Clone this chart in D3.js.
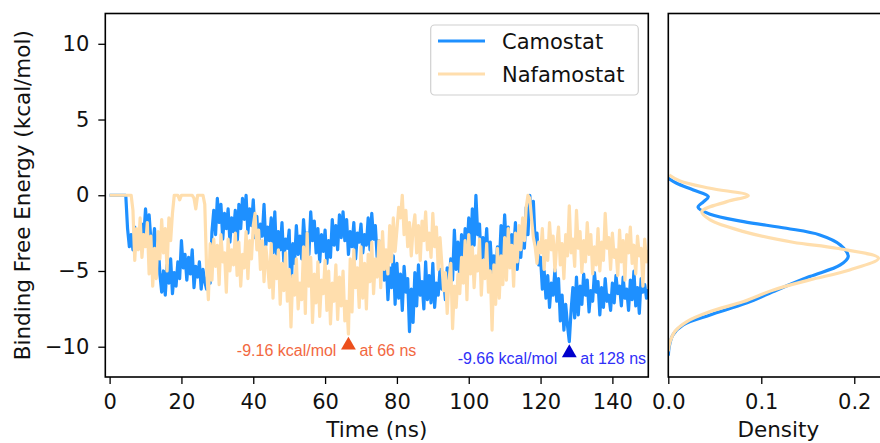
<!DOCTYPE html>
<html><head><meta charset="utf-8">
<script src="https://cdn.jsdelivr.net/npm/d3@7"></script>
<style>body{margin:0;background:#fff}svg{display:block}</style>
</head><body><svg id="c" width="880" height="443"></svg>
<script>
// ---------------- data ----------------
const timeStep = 0.5; // ns between samples
const camostat = [
0,0,0,0,0,0,0,0,0,0,
-2.2,-3.4,-2.6,-3.6,-2.1,-3.1,-2.4,-3.5,-1.9,-2.8,
-0.9,-2.5,-1.3,-3.0,-3.5,-2.2,-3.8,-3.0,-5.2,-6.4,
-5.0,-6.6,-4.6,-5.8,-4.2,-6.5,-5.1,-6.0,-4.4,-5.5,
-3.0,-4.8,-3.9,-5.6,-4.1,-5.2,-3.6,-6.1,-4.7,-5.4,
-4.4,-6.2,-4.9,-5.7,-6.2,-4.6,-5.8,-2.4,-1.0,-2.6,
-0.2,-1.8,-0.6,-2.9,-1.2,-2.2,-0.9,-3.1,-1.5,-2.4,
-1.0,-3.4,-0.6,-2.2,-0.2,-1.6,0.0,-2.5,-0.9,-2.0,
-0.3,-2.8,-1.4,-3.6,-1.9,-2.7,-0.6,-3.3,-2.1,-3.0,
-1.5,-3.8,-1.1,-4.2,-2.4,-3.6,-1.8,-4.4,-2.9,-3.5,
-2.3,-6.6,-3.2,-4.5,-2.0,-3.9,-2.7,-4.2,-1.6,-3.4,
-2.5,-3.9,-1.1,-3.0,-1.7,-3.8,-2.2,-4.4,-2.6,-3.7,
-2.3,-4.5,-3.0,-4.1,-1.6,-3.3,-2.0,-3.6,-1.3,-2.8,
-1.1,-3.0,-1.6,-3.9,-2.4,-3.4,-1.8,-4.2,-2.5,-3.1,
-1.9,-3.8,-2.6,-3.3,-1.5,-3.6,-1.2,-2.9,-2.0,-4.1,
-3.0,-4.5,-3.6,-5.6,-4.2,-6.9,-4.8,-6.1,-4.0,-7.2,
-4.5,-6.8,-5.2,-7.6,-4.7,-6.4,-5.5,-9.0,-6.2,-8.4,
-5.1,-7.3,-4.6,-6.6,-5.7,-7.5,-4.4,-6.9,-5.3,-7.1,
-4.5,-7.4,-5.8,-6.6,-4.9,-6.2,-5.5,-6.9,-4.8,-5.9,
-4.2,-5.6,-2.3,-4.9,-3.1,-5.5,-2.6,-4.4,-2.2,-3.8,
-1.5,-4.2,-0.9,-3.3,0.0,-2.6,-1.9,-4.6,-2.8,-4.1,
-2.2,-4.9,-3.1,-5.2,-4.0,-5.6,-3.4,-4.7,-2.0,-3.9,
-1.3,-3.6,-2.1,-4.4,-2.6,-3.8,-1.8,-4.9,-3.2,-4.1,
-2.4,-3.5,-0.8,-2.6,0.0,-1.6,-0.4,-3.2,-2.5,-4.6,
-4.1,-6.2,-5.0,-6.8,-5.3,-7.4,-5.8,-6.6,-4.9,-7.0,
-5.5,-8.3,-6.6,-8.9,-7.2,-8.6,-9.66,-7.6,-6.1,-8.1,
-5.4,-7.9,-6.0,-7.2,-5.2,-6.6,-5.6,-7.7,-6.3,-7.0,
-5.1,-6.4,-5.7,-7.9,-6.1,-7.4,-5.5,-7.0,-6.6,-7.6,
-5.8,-7.1,-5.3,-6.5,-6.0,-7.3,-5.4,-6.8,-6.2,-7.6,
-5.6,-6.9,-5.0,-7.3,-6.1,-7.8,-5.5,-6.4,-5.9,-6.8,
-6.2];
const nafamostat = [
0,0,0,0,0,0,0,0,0,0,
0,0,0,-1.0,-4.3,-2.2,-3.6,-1.5,-4.1,-2.6,
-3.4,-1.8,-5.2,-2.7,-6.0,-3.5,-5.5,-2.4,-4.2,-1.6,
-3.8,-2.2,-5.0,-1.5,-3.0,-1.2,0,0,0,-0.3,
0,0,0,0,0,0,0,-0.2,-0.9,0,
0,0,0,-0.6,-4.8,-6.9,-3.2,-5.6,-2.9,-4.7,
-3.3,-5.9,-2.6,-4.4,-3.8,-6.4,-2.9,-5.0,-3.6,-4.6,
-2.5,-5.3,-3.1,-6.0,-3.9,-4.8,-2.4,-5.5,-3.0,-4.2,
-2.0,-1.2,-3.6,-2.3,-4.9,-3.0,-5.7,-3.4,-4.6,-6.1,
-3.2,-6.8,-4.0,-5.5,-3.6,-7.2,-4.5,-6.3,-3.8,-7.0,
-4.9,-8.7,-5.3,-6.6,-4.2,-7.5,-5.8,-6.9,-3.4,-7.8,
-2.5,-6.0,-4.1,-8.4,-5.2,-7.1,-4.4,-8.0,-5.6,-6.5,
-4.3,-7.6,-5.0,-8.5,-5.8,-7.0,-4.6,-8.2,-5.4,-7.3,
-5.0,-8.3,-7.0,-9.16,-4.2,-7.7,-3.6,-6.1,-4.8,-7.4,
-3.4,-6.8,-4.5,-7.5,-3.9,-5.7,-3.1,-6.5,-4.2,-5.4,
-3.0,-6.1,-2.4,-4.9,-3.6,-5.2,-2.0,-4.4,-1.5,-3.7,
-2.3,-0.8,-1.5,0.0,-2.6,-1.0,-3.4,-1.8,-4.0,-2.2,
-1.3,-3.8,-2.0,-4.3,-1.7,-3.0,-1.1,-3.6,-2.5,-4.1,
-1.2,-3.4,-2.1,-4.9,-2.8,-4.5,-6.3,-5.1,-7.8,-5.6,
-4.5,-8.8,-6.0,-7.4,-5.2,-6.5,-4.1,-5.8,-3.0,-6.9,
-2.6,-5.2,-3.4,-6.1,-4.0,-5.0,-2.9,-6.6,-4.3,-5.5,
-3.2,-6.4,-5.0,-8.9,-4.6,-7.2,-3.5,-6.8,-4.0,-5.9,
-2.8,-5.6,-2.2,-4.8,-3.3,-6.0,-2.5,-4.4,-2.0,-3.6,
-1.5,-3.0,-0.8,0.0,-0.2,-1.6,-2.8,-3.4,-4.5,-3.1,
-3.8,-2.2,-4.9,-3.0,-4.3,-1.8,-3.6,-2.7,-5.0,-3.3,
-2.1,-4.6,-3.2,-5.5,-2.6,-4.0,-0.7,-3.8,-2.9,-4.7,
-1.0,-3.5,-2.4,-5.1,-3.0,-4.4,-1.8,-3.9,-2.6,-5.2,
-3.4,-4.6,-2.2,-5.0,-3.1,-4.3,-1.2,-3.5,-2.8,-4.9,
-2.5,-4.1,-3.6,-5.3,-2.3,-4.4,-3.0,-5.6,-2.6,-3.8,
-2.1,-4.5,-3.3,-5.2,-2.7,-4.0,-3.5,-6.0,-2.9,-4.4,
-3.6];
const seriesNames = ["Camostat", "Nafamostat"];
const seriesColors = ["#1E90FF", "#FFDEAD"];

// density (KDE) curves: energy (kcal/mol) and density
const camDensEnergy  = [1.12, 0.79, 0.35, -0.09, -0.42, -0.79, -1.25, -1.74, -2.18, -2.62, -3.28, -4.05, -4.60, -5.37, -6.25, -7.12, -7.90, -8.56, -9.22, -10.0, -10.6];
const camDensity     = [0.0, 0.009, 0.027, 0.043, 0.038, 0.032, 0.045, 0.081, 0.127, 0.163, 0.185, 0.1935, 0.185, 0.152, 0.117, 0.084, 0.045, 0.016, 0.005, 0.001, 0.0];
const nafDensEnergy  = [1.34, 0.94, 0.46, -0.02, -0.42, -1.08, -1.63, -2.40, -3.10, -3.50, -4.16, -4.93, -5.59, -6.25, -7.02, -7.68, -8.34, -9.0, -9.66, -10.3];
const nafDensity     = [0.001, 0.0126, 0.045, 0.086, 0.063, 0.036, 0.045, 0.081, 0.134, 0.181, 0.226, 0.195, 0.152, 0.113, 0.081, 0.045, 0.020, 0.007, 0.002, 0.0];

// minima annotations
const minTime   = [66.5, 128];
const minEnergy = [-9.16, -9.66];
const minLabel  = ["-9.16 kcal/mol", "-9.66 kcal/mol"];
const minAt     = ["at 66 ns", "at 128 ns"];
const minTextColors   = ["#f2683f", "#3030f8"];
const minMarkerColors = ["#ec4f1c", "#0000cc"];

const timeTicks = [0, 20, 40, 60, 80, 100, 120, 140];
const energyTicks = [-10, -5, 0, 5, 10];
const densityTicks = [0, 0.1, 0.2];

// ---------------- drawing ----------------
const FONT = "'DejaVu Sans', sans-serif";
const svg = d3.select("#c");
const L = {x0: 105.3, x1: 648.3, y0: 13.5, y1: 377};
const R = {x0: 668.3, x1: 888.3};

const x = d3.scaleLinear().domain([-1.2, 150]).range([L.x0, L.x1]);
const y = d3.scaleLinear().domain([-12, 12]).range([L.y1, L.y0]);
const xd = d3.scaleLinear().domain([0, 0.2366]).range([R.x0, R.x1]);

const defs = svg.append("defs");
defs.append("clipPath").attr("id", "clipL").append("rect")
  .attr("x", L.x0).attr("y", L.y0).attr("width", L.x1 - L.x0).attr("height", L.y1 - L.y0);
defs.append("clipPath").attr("id", "clipR").append("rect")
  .attr("x", R.x0).attr("y", L.y0).attr("width", R.x1 - R.x0).attr("height", L.y1 - L.y0);

// time series
const seriesData = [camostat, nafamostat];
const line = d3.line().x((d, i) => x(i * timeStep)).y(d => y(d));
const gL = svg.append("g").attr("clip-path", "url(#clipL)");
seriesData.forEach((s, k) => {
  gL.append("path").datum(s).attr("d", line)
    .attr("fill", "none").attr("stroke", seriesColors[k])
    .attr("stroke-width", 3.2).attr("stroke-linejoin", "round");
});

// density
const gR = svg.append("g").attr("clip-path", "url(#clipR)");
const dens = [
  {e: camDensEnergy, d: camDensity},
  {e: nafDensEnergy, d: nafDensity}
];
const dline = d3.line().curve(d3.curveCatmullRom.alpha(0.5));
dens.forEach((s, k) => {
  const pts = s.e.map((e, i) => [xd(s.d[i]), y(e)]);
  gR.append("path").attr("d", dline(pts))
    .attr("fill", "none").attr("stroke", seriesColors[k]).attr("stroke-width", 3.2);
});

// axes
function styleAxis(g) {
  g.select(".domain").remove();
  g.selectAll(".tick line").attr("stroke", "#000").attr("stroke-width", 1.3);
  g.selectAll(".tick text").attr("font-family", FONT).attr("font-size", 21).attr("fill", "#111");
}
svg.append("g").attr("transform", `translate(0,${L.y1})`)
  .call(d3.axisBottom(x).tickValues(timeTicks).tickSize(7).tickPadding(10).tickFormat(d3.format("d")))
  .call(styleAxis);
svg.append("g").attr("transform", `translate(${L.x0},0)`)
  .call(d3.axisLeft(y).tickValues(energyTicks).tickSize(7).tickPadding(9).tickFormat(d3.format("d")))
  .call(styleAxis);
svg.append("g").attr("transform", `translate(0,${L.y1})`)
  .call(d3.axisBottom(xd).tickValues(densityTicks).tickSize(7).tickPadding(10).tickFormat(d3.format(".1f")))
  .call(styleAxis);

// frames
svg.append("rect").attr("x", L.x0).attr("y", L.y0).attr("width", L.x1 - L.x0).attr("height", L.y1 - L.y0)
  .attr("fill", "none").attr("stroke", "#000").attr("stroke-width", 1.6);
svg.append("rect").attr("x", R.x0).attr("y", L.y0).attr("width", R.x1 - R.x0).attr("height", L.y1 - L.y0)
  .attr("fill", "none").attr("stroke", "#000").attr("stroke-width", 1.6);

// axis titles
svg.append("text").attr("x", (L.x0 + L.x1) / 2).attr("y", 437).attr("text-anchor", "middle")
  .attr("font-family", FONT).attr("font-size", 21.5).attr("fill", "#111").text("Time (ns)");
svg.append("text").attr("x", (R.x0 + R.x1) / 2).attr("y", 437).attr("text-anchor", "middle")
  .attr("font-family", FONT).attr("font-size", 21.5).attr("fill", "#111").text("Density");
svg.append("text").attr("transform", `translate(30,${(L.y0 + L.y1) / 2}) rotate(-90)`)
  .attr("text-anchor", "middle").attr("font-family", FONT).attr("font-size", 21.5).attr("fill", "#111")
  .text("Binding Free Energy (kcal/mol)");

// minima annotations
const tri = d3.symbol().type(d3.symbolTriangle).size(95);
minTime.forEach((t, k) => {
  const cx = x(t), cy = y(minEnergy[k] - 0.75);
  svg.append("path").attr("d", tri).attr("transform", `translate(${cx},${cy})`).attr("fill", minMarkerColors[k]);
  svg.append("text").attr("x", cx - 12).attr("y", cy + 11).attr("text-anchor", "end")
    .attr("font-family", "'Liberation Sans', Arial, sans-serif").attr("font-size", 16)
    .attr("fill", minTextColors[k]).text(minLabel[k]);
  svg.append("text").attr("x", cx + 11).attr("y", cy + 11).attr("text-anchor", "start")
    .attr("font-family", "'Liberation Sans', Arial, sans-serif").attr("font-size", 16)
    .attr("fill", minTextColors[k]).text(minAt[k]);
});

// legend
const lg = svg.append("g");
lg.append("rect").attr("x", 430.7).attr("y", 25).attr("width", 207.6).attr("height", 70).attr("rx", 4)
  .attr("fill", "#fff").attr("fill-opacity", 0.8).attr("stroke", "#d0d0d0").attr("stroke-width", 1.2);
seriesNames.forEach((n, k) => {
  const ly = 41 + k * 33;
  lg.append("line").attr("x1", 438).attr("x2", 485).attr("y1", ly).attr("y2", ly)
    .attr("stroke", seriesColors[k]).attr("stroke-width", 3);
  lg.append("text").attr("x", 502).attr("y", ly + 7.5).attr("font-family", FONT).attr("font-size", 21)
    .attr("fill", "#111").text(n);
});
</script></body></html>
